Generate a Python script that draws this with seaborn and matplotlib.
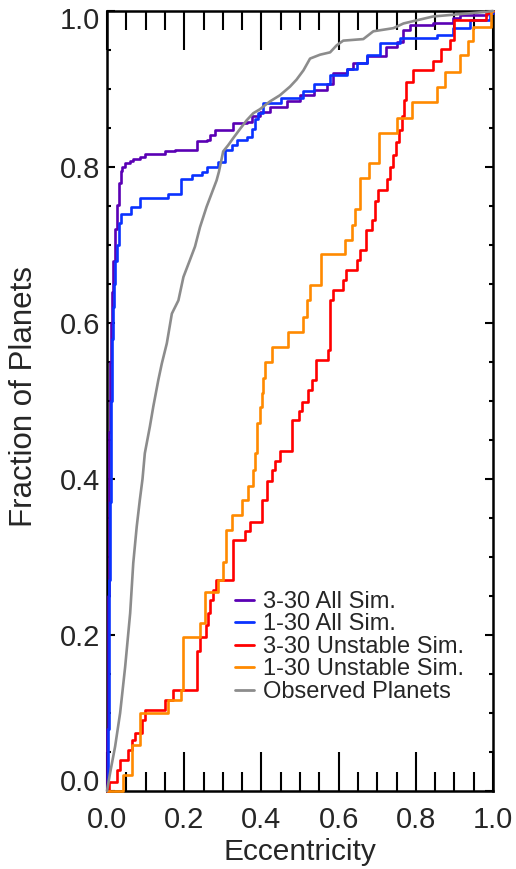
import numpy as np
import pandas as pd
import matplotlib
matplotlib.use("Agg")
import matplotlib.pyplot as plt
import matplotlib.transforms as mtransforms
from matplotlib.ticker import MultipleLocator
import seaborn as sns

# ---------------- data ----------------
series_names = ["3-30 All Sim.", "1-30 All Sim.", "3-30 Unstable Sim.",
                "1-30 Unstable Sim.", "Observed Planets"]

ecc_all_3_30 = [0.000, 0.001, 0.002, 0.003, 0.004, 0.005, 0.006, 0.008, 0.010, 0.012,
                0.016, 0.020, 0.025, 0.030, 0.035, 0.040, 0.047, 0.060, 0.068, 0.085,
                0.098, 0.150, 0.176, 0.232, 0.258, 0.267, 0.280, 0.327, 0.362, 0.375,
                0.396, 0.422, 0.466, 0.500, 0.535, 0.569, 0.586, 0.621, 0.638, 0.673,
                0.724, 0.751, 0.768, 0.785, 0.845, 0.897, 0.915, 0.984, 1.000]
frac_all_3_30 = [0.000, 0.080, 0.160, 0.250, 0.330, 0.400, 0.460, 0.550, 0.600, 0.640,
                 0.680, 0.720, 0.751, 0.780, 0.795, 0.800, 0.805, 0.808, 0.810, 0.813,
                 0.817, 0.820, 0.822, 0.833, 0.835, 0.841, 0.847, 0.856, 0.858, 0.866,
                 0.870, 0.877, 0.884, 0.892, 0.899, 0.907, 0.921, 0.926, 0.933, 0.942,
                 0.954, 0.960, 0.976, 0.982, 0.984, 0.991, 0.995, 0.998, 1.000]

ecc_all_1_30 = [0.000, 0.002, 0.004, 0.006, 0.008, 0.010, 0.013, 0.015, 0.018, 0.022,
                0.025, 0.031, 0.035, 0.062, 0.085, 0.159, 0.193, 0.219, 0.245, 0.258,
                0.288, 0.306, 0.323, 0.336, 0.362, 0.375, 0.383, 0.390, 0.405, 0.452,
                0.509, 0.535, 0.578, 0.621, 0.647, 0.673, 0.707, 0.759, 0.854, 0.897,
                0.940, 0.992, 1.000]
frac_all_1_30 = [0.000, 0.080, 0.170, 0.270, 0.370, 0.500, 0.580, 0.620, 0.650, 0.680,
                 0.700, 0.728, 0.740, 0.749, 0.760, 0.765, 0.785, 0.790, 0.794, 0.800,
                 0.807, 0.822, 0.828, 0.835, 0.839, 0.849, 0.862, 0.869, 0.882, 0.888,
                 0.897, 0.907, 0.918, 0.926, 0.933, 0.944, 0.959, 0.965, 0.969, 0.978,
                 0.988, 0.997, 1.000]

ecc_unst_3_30 = [0.000, 0.005, 0.025, 0.034, 0.055, 0.064, 0.073, 0.090, 0.098, 0.150,
                 0.172, 0.232, 0.241, 0.256, 0.262, 0.267, 0.275, 0.282, 0.327, 0.358,
                 0.370, 0.401, 0.414, 0.427, 0.436, 0.448, 0.478, 0.497, 0.506, 0.520,
                 0.530, 0.541, 0.573, 0.578, 0.586, 0.612, 0.619, 0.647, 0.655, 0.671,
                 0.686, 0.695, 0.703, 0.725, 0.733, 0.740, 0.749, 0.757, 0.764, 0.770,
                 0.775, 0.794, 0.845, 0.866, 0.888, 0.900, 0.983, 0.995, 1.000]
frac_unst_3_30 = [0.000, 0.012, 0.027, 0.040, 0.053, 0.065, 0.074, 0.091, 0.104, 0.117,
                  0.129, 0.179, 0.198, 0.213, 0.228, 0.245, 0.258, 0.271, 0.322, 0.333,
                  0.345, 0.373, 0.398, 0.411, 0.423, 0.436, 0.476, 0.487, 0.499, 0.514,
                  0.527, 0.553, 0.566, 0.629, 0.642, 0.655, 0.668, 0.681, 0.694, 0.719,
                  0.732, 0.757, 0.770, 0.784, 0.800, 0.815, 0.832, 0.847, 0.866, 0.886,
                  0.909, 0.924, 0.936, 0.951, 0.963, 0.988, 0.998, 1.000, 1.000]

ecc_unst_1_30 = [0.000, 0.041, 0.064, 0.085, 0.159, 0.193, 0.198, 0.241, 0.254, 0.288,
                 0.301, 0.308, 0.323, 0.349, 0.366, 0.377, 0.383, 0.388, 0.396, 0.401,
                 0.405, 0.409, 0.427, 0.470, 0.509, 0.519, 0.527, 0.554, 0.617, 0.634,
                 0.642, 0.655, 0.679, 0.705, 0.750, 0.789, 0.856, 0.876, 0.915, 0.934,
                 0.949, 0.994, 1.000]
frac_unst_1_30 = [0.000, 0.021, 0.059, 0.100, 0.117, 0.130, 0.197, 0.215, 0.255, 0.270,
                  0.294, 0.335, 0.354, 0.373, 0.391, 0.412, 0.433, 0.472, 0.492, 0.510,
                  0.529, 0.550, 0.569, 0.589, 0.608, 0.629, 0.649, 0.688, 0.706, 0.726,
                  0.746, 0.786, 0.805, 0.844, 0.863, 0.883, 0.903, 0.922, 0.943, 0.961,
                  0.979, 1.000, 1.000]

ecc_observed = [0.000, 0.008, 0.021, 0.034, 0.047, 0.060, 0.068, 0.077, 0.085, 0.092,
                0.098, 0.111, 0.120, 0.133, 0.142, 0.155, 0.168, 0.185, 0.198, 0.215,
                0.228, 0.241, 0.258, 0.271, 0.284, 0.290, 0.301, 0.314, 0.327, 0.345,
                0.362, 0.379, 0.396, 0.422, 0.448, 0.474, 0.491, 0.509, 0.526, 0.552,
                0.578, 0.595, 0.612, 0.664, 0.690, 0.742, 0.768, 0.802, 0.845, 0.915,
                0.984, 1.000]
frac_observed = [0.000, 0.023, 0.057, 0.100, 0.159, 0.228, 0.292, 0.339, 0.373, 0.400,
                 0.433, 0.467, 0.493, 0.527, 0.548, 0.574, 0.612, 0.629, 0.659, 0.681,
                 0.698, 0.723, 0.749, 0.766, 0.783, 0.794, 0.820, 0.828, 0.837, 0.849,
                 0.860, 0.869, 0.874, 0.884, 0.892, 0.903, 0.912, 0.924, 0.939, 0.944,
                 0.947, 0.956, 0.962, 0.964, 0.974, 0.978, 0.984, 0.988, 0.993, 0.996,
                 0.999, 1.000]

xtick_vals = [0.0, 0.2, 0.4, 0.6, 0.8, 1.0]
ytick_vals = [0.0, 0.2, 0.4, 0.6, 0.8, 1.0]

colors = ["#5a00b4", "#0a32ff", "#ff0000", "#ff8a00", "#8c8c8c"]
styles = ["steps-post", "steps-post", "steps-post", "steps-post", "default"]

data = [(ecc_all_3_30, frac_all_3_30), (ecc_all_1_30, frac_all_1_30),
        (ecc_unst_3_30, frac_unst_3_30), (ecc_unst_1_30, frac_unst_1_30),
        (ecc_observed, frac_observed)]

frames = []
for name, (e, f) in zip(series_names, data):
    frames.append(pd.DataFrame({"ecc": e, "frac": f, "series": name}))
df = pd.concat(frames, ignore_index=True)

# ---------------- figure ----------------
sns.set_style("ticks")
plt.rcParams["font.family"] = ["Liberation Sans", "DejaVu Sans"]

fig = plt.figure(figsize=(5.16, 8.69), dpi=100)
ax = fig.add_axes([107 / 516, 78 / 869, 386 / 516, 780 / 869])

for name, col, ds in zip(series_names, colors, styles):
    sub = df[df["series"] == name]
    sns.lineplot(data=sub, x="ecc", y="frac", ax=ax, color=col, label=name,
                 estimator=None, sort=False, drawstyle=ds, linewidth=1.9,
                 zorder=3, clip_on=False)

ax.set_xlim(0, 1)
ax.set_ylim(0, 1)
ax.set_xticks(xtick_vals)
ax.set_yticks(ytick_vals)
ax.set_xticklabels([f"{v:.1f}" for v in xtick_vals])
ax.set_yticklabels([f"{v:.1f}" for v in ytick_vals])
ax.xaxis.set_minor_locator(MultipleLocator(0.05))
ax.yaxis.set_minor_locator(MultipleLocator(0.05))

ax.tick_params(axis="x", which="major", direction="in", length=28, width=1.5,
               top=True, bottom=True, labelsize=21, pad=11, color="black")
ax.tick_params(axis="x", which="minor", direction="in", length=13.5, width=1.5,
               top=True, bottom=True, color="black")
ax.tick_params(axis="y", which="major", direction="in", length=5.5, width=1.5,
               left=True, right=True, labelsize=21, pad=5, color="black")
ax.tick_params(axis="y", which="minor", direction="in", length=2.7, width=1.5,
               left=True, right=True, color="black")

for sp in ax.spines.values():
    sp.set_visible(True)
    sp.set_linewidth(1.8)
    sp.set_color("black")

ax.set_xlabel("Eccentricity", fontsize=21.5, labelpad=2.5)
ax.set_ylabel("Fraction of Planets", fontsize=22.5)
ax.yaxis.set_label_coords(-0.175, 0.506)

# edge tick labels nudged like the original
ylabels = ax.get_yticklabels()
ylabels[0].set_transform(ylabels[0].get_transform() +
                         mtransforms.ScaledTranslation(0, 8 / 72, fig.dpi_scale_trans))
ylabels[-1].set_transform(ylabels[-1].get_transform() +
                          mtransforms.ScaledTranslation(0, -5 / 72, fig.dpi_scale_trans))

leg = ax.legend(loc="upper left", bbox_to_anchor=(0.332, 0.2565), frameon=False,
                fontsize=17, handlelength=0.8, handletextpad=0.4,
                labelspacing=0.02, borderpad=0, borderaxespad=0)
for line in leg.get_lines():
    line.set_linewidth(2.0)

fig.savefig("out.png", dpi=100)
